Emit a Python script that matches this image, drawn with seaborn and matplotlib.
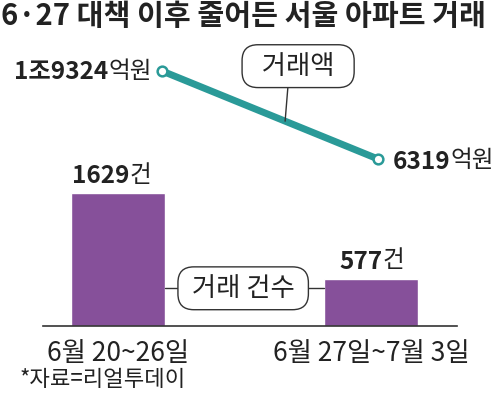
import pandas as pd
import seaborn as sns
import matplotlib.pyplot as plt

# 데이터
periods = ['6월 20~26일', '6월 27일~7월 3일']
counts = [1629, 577]            # 거래 건수 (건)
amounts = [19324, 6319]         # 거래액 (억원)
count_labels = ['1629', '577']
amount_labels = ['1조9324', '6319']

PURPLE = '#86509a'
TEAL = '#2a9a98'
INK = '#222222'
W, H = 500, 395

sns.set_theme(style='white')
plt.rcParams['font.family'] = ['Noto Sans CJK KR', 'DejaVu Sans']

fig = plt.figure(figsize=(5, 3.95), dpi=100)


def px_axes(x0, y0, x1, y1):
    # 픽셀 좌표(왼쪽 위 기준)로 축 위치 지정
    return fig.add_axes([x0 / W, 1 - y1 / H, (x1 - x0) / W, (y1 - y0) / H])


def num_unit(ax, x, y, num, unit, dx, dy, ha, size=17, usize=15):
    # 굵은 숫자 + 보통 굵기 단위
    if ha == 'left':
        t = ax.annotate(num, (x, y), xytext=(dx, dy), textcoords='offset pixels',
                        ha='left', va='center', fontsize=size, fontweight='bold',
                        color=INK, annotation_clip=False)
        ax.annotate(unit, xy=(1, 0.08), xycoords=t, ha='left', va='bottom',
                    fontsize=usize, color=INK, annotation_clip=False)
    else:
        t = ax.annotate(unit, (x, y), xytext=(dx, dy), textcoords='offset pixels',
                        ha='right', va='center', fontsize=usize, color=INK,
                        annotation_clip=False)
        ax.annotate(num, xy=(0, -0.08), xycoords=t, ha='right', va='bottom',
                    fontsize=size, fontweight='bold', color=INK, annotation_clip=False)


# 제목
fig.text(1 / W, 1 - 16 / H, '6·27 대책 이후 줄어든 서울 아파트 거래', ha='left', va='center',
         fontsize=21, fontweight='bold', color=INK)

# 막대: 거래 건수
ax = px_axes(43, 150, 457, 326)
df = pd.DataFrame({'period': periods, 'count': counts})
bar_w = 0.37
sns.barplot(data=df, x='period', y='count', color=PURPLE, width=bar_w, saturation=1, ax=ax)
ax.set_xlim(-0.296, 1.34)
ax.set_ylim(0, 2156)
ax.set_xlabel('')
ax.set_ylabel('')
ax.set_yticks([])
for s in ['top', 'left', 'right']:
    ax.spines[s].set_visible(False)
ax.spines['bottom'].set_color('#333333')
ax.spines['bottom'].set_linewidth(1.2)
ax.tick_params(axis='x', length=0, pad=10, labelsize=19, labelcolor=INK)

for i, (c, lab) in enumerate(zip(counts, count_labels)):
    num_unit(ax, i, c, lab, '건', 33, 18, 'right', size=17.5, usize=17)

# 거래 건수 라벨 박스와 연결선
yc = 462
ax.plot([bar_w / 2, 1 - bar_w / 2], [yc, yc], color='#333333', lw=1, zorder=1)
ax.text(0.495, yc, ' 거래 건수 ', ha='center', va='center', fontsize=19, color=INK, zorder=3,
        bbox=dict(boxstyle='round,pad=0.3,rounding_size=0.6', fc='white', ec='#333333', lw=1))

# 출처
fig.text(20 / W, 1 - 380 / H, '*자료=리얼투데이', ha='left', va='center', fontsize=16, color=INK)

# 선: 거래액
ax2 = px_axes(140, 60, 400, 170)
ax2.patch.set_alpha(0)
sns.lineplot(x=[0, 1], y=amounts, ax=ax2, color=TEAL, lw=5, marker='o', markersize=7,
             markerfacecolor='white', markeredgecolor=TEAL, markeredgewidth=1.8, clip_on=False)
ax2.set_xlim(-0.102, 1.102)
ax2.set_ylim(4693, 20950)
ax2.axis('off')

num_unit(ax2, 0, amounts[0], amount_labels[0], '억원', -10, 0, 'right', size=17.5, usize=17)
num_unit(ax2, 1, amounts[1], amount_labels[1], '억원', 15, -3, 'left', size=17.5, usize=17)

fx = 0.57
fy = amounts[0] + fx * (amounts[1] - amounts[0])
ax2.annotate('  거래액  ', xy=(fx, fy), xytext=(13, 55), textcoords='offset pixels',
             ha='center', va='center', fontsize=19, color=INK,
             bbox=dict(boxstyle='round,pad=0.3,rounding_size=0.6', fc='white', ec='#333333', lw=1),
             arrowprops=dict(arrowstyle='-', color='#333333', lw=1, relpos=(0.4, 0),
                             shrinkA=0, shrinkB=0))

fig.savefig('out.png', dpi=100)
